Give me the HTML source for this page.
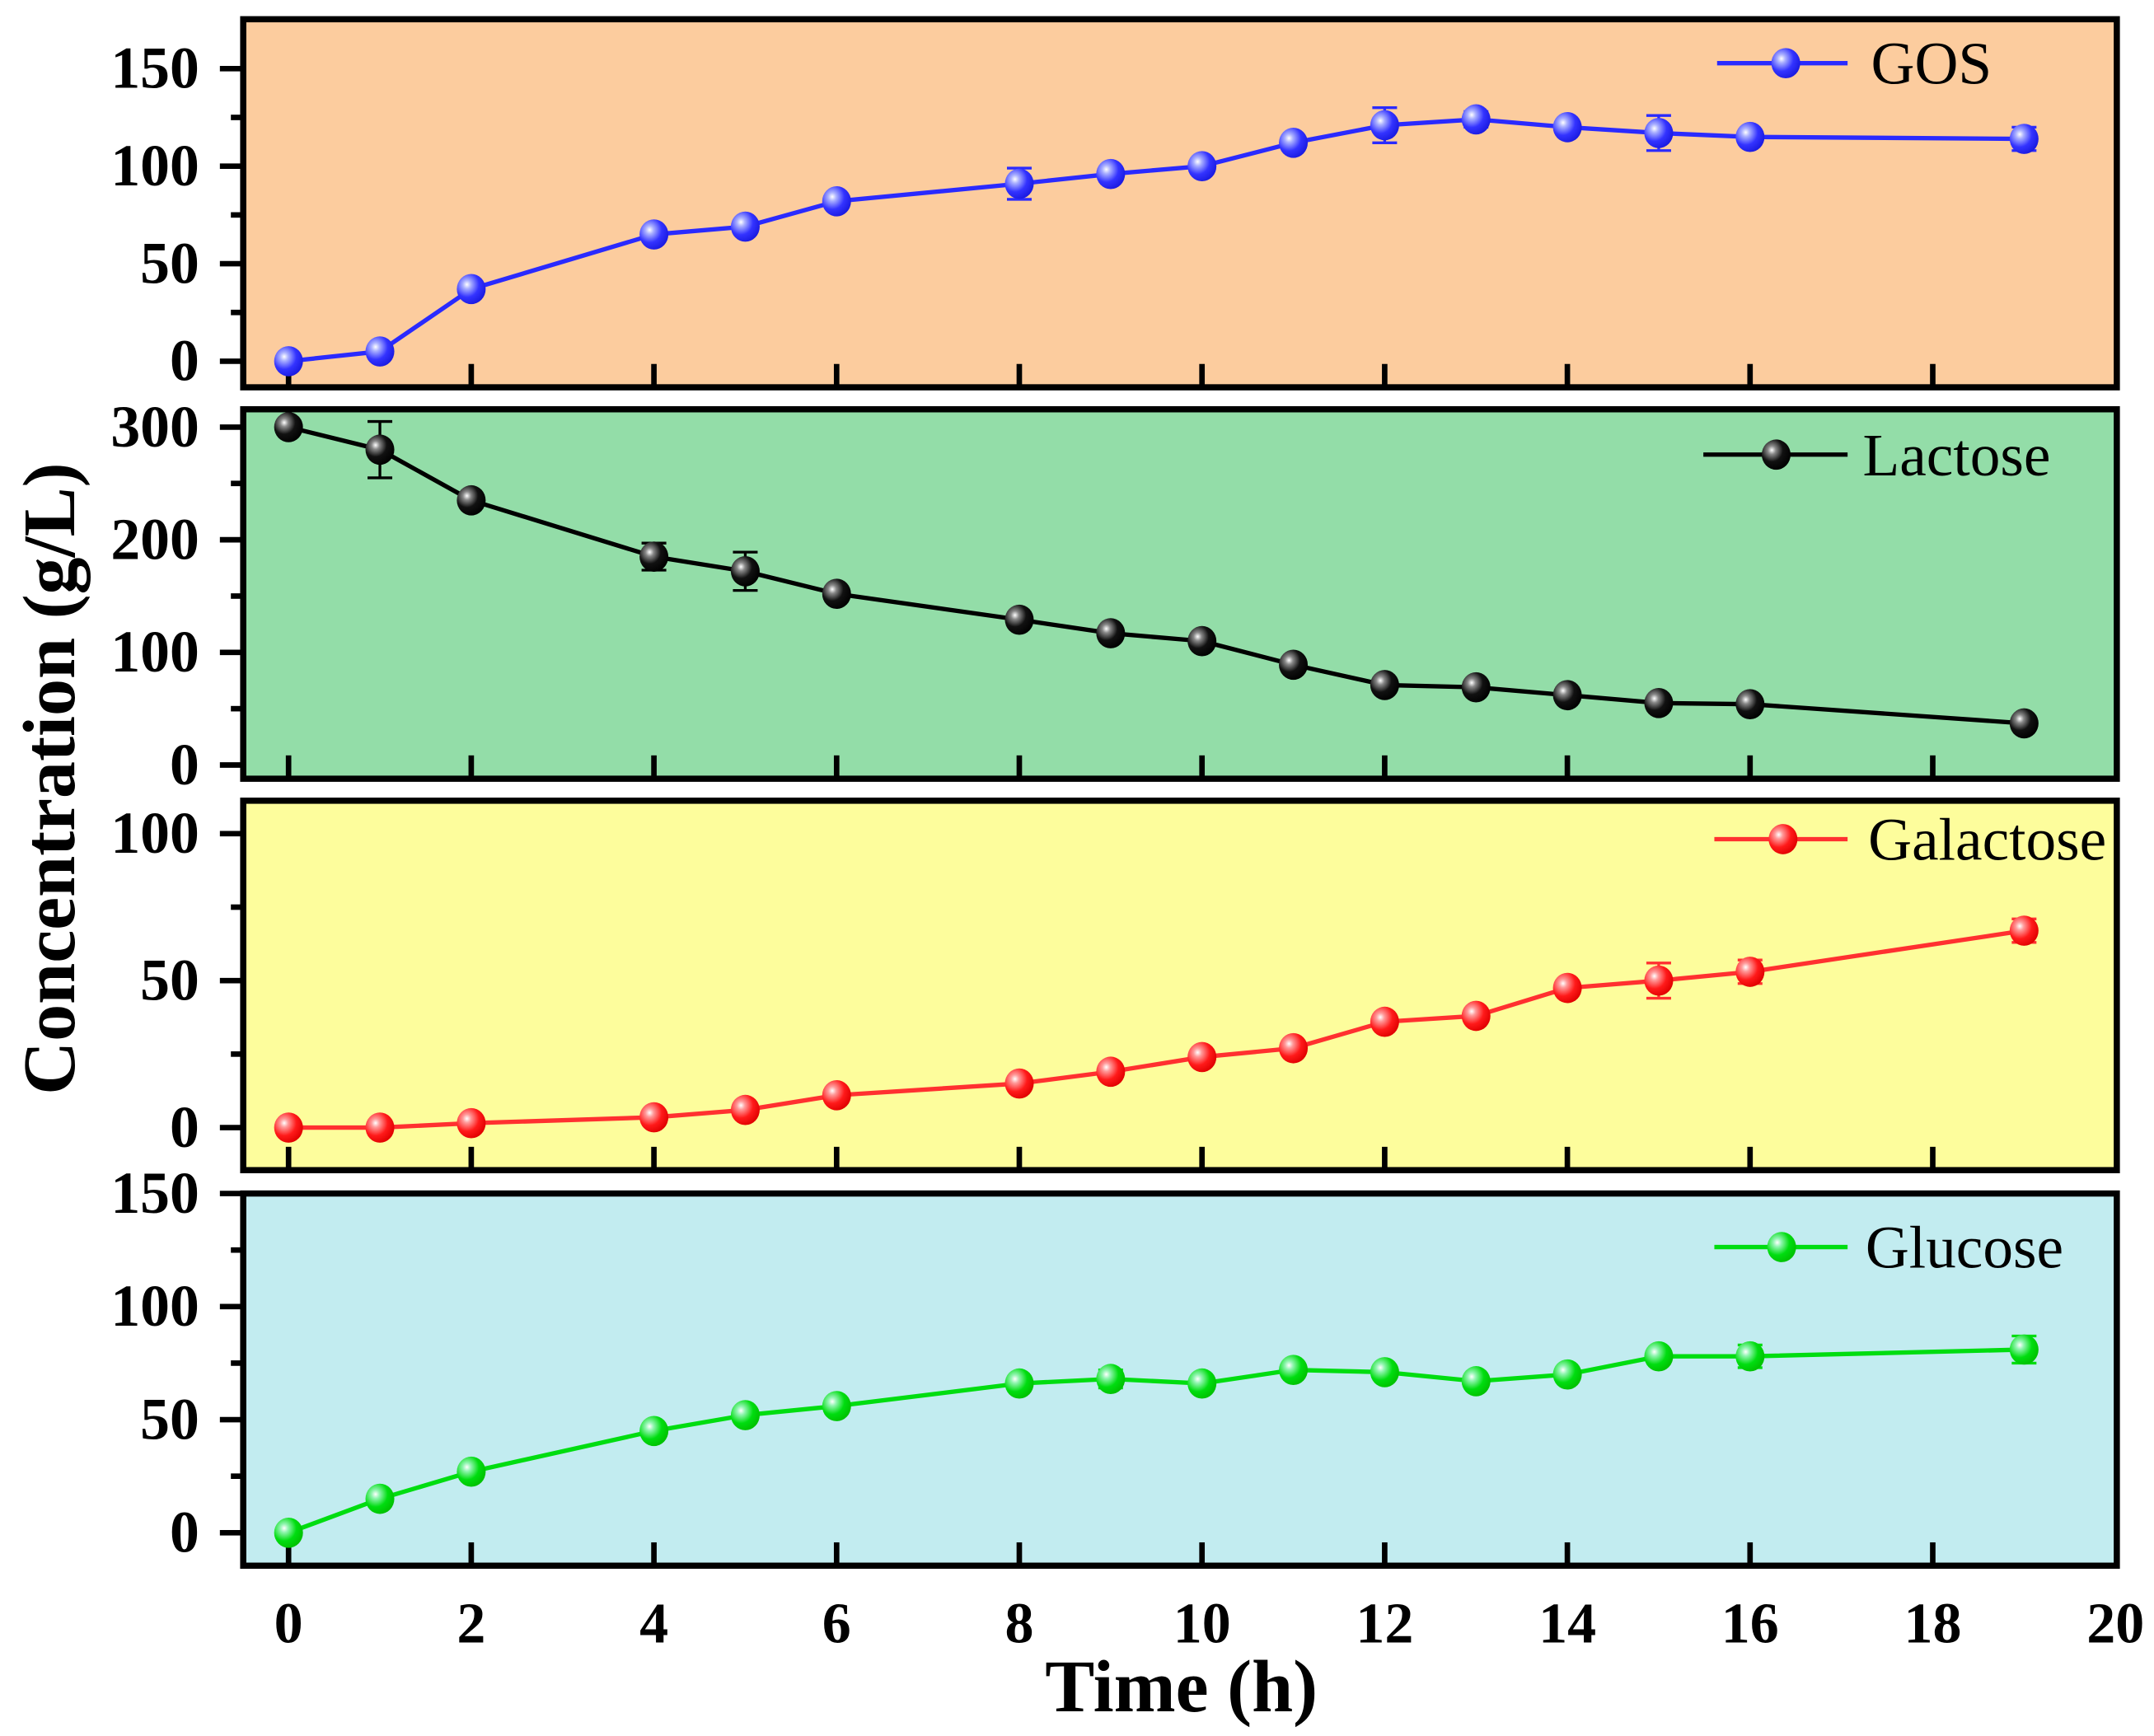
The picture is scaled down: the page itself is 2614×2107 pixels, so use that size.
<!DOCTYPE html>
<html><head><meta charset="utf-8"><style>
html,body{margin:0;padding:0;background:#fff}
svg{display:block}
text{font-family:"Liberation Serif",serif}
</style></head><body>
<svg id="chart" width="2614" height="2107" viewBox="0 0 1568 1264" xmlns="http://www.w3.org/2000/svg">
<defs>
<radialGradient id="gB" cx="0.35" cy="0.35" r="0.7"><stop offset="0" stop-color="#fff"/><stop offset="0.2" stop-color="#aab0ff"/><stop offset="0.6" stop-color="#3333ff"/><stop offset="1" stop-color="#1a1ae0"/></radialGradient>
<radialGradient id="gK" cx="0.35" cy="0.35" r="0.7"><stop offset="0" stop-color="#fff"/><stop offset="0.2" stop-color="#888"/><stop offset="0.55" stop-color="#111"/><stop offset="1" stop-color="#000"/></radialGradient>
<radialGradient id="gR" cx="0.35" cy="0.35" r="0.7"><stop offset="0" stop-color="#fff"/><stop offset="0.2" stop-color="#ff9a9a"/><stop offset="0.6" stop-color="#ff1a1a"/><stop offset="1" stop-color="#e00000"/></radialGradient>
<radialGradient id="gG" cx="0.35" cy="0.35" r="0.7"><stop offset="0" stop-color="#fff"/><stop offset="0.2" stop-color="#90f5b0"/><stop offset="0.6" stop-color="#00dd10"/><stop offset="1" stop-color="#00c000"/></radialGradient>
</defs>
</svg>
<script>
const times = [0,1,2,4,5,6,8,9,10,11,12,13,14,15,16,19];
const gosValues = [0,5,37,65,69,82,91,96,100,112,121,124,120,117,115,114];
const gosErrors = [0,0,2,2,2,2,8,2,2,2,9,4,2,9,3,6];
const lactoseValues = [300,280,235,185,172,152,129,117,110,89,71,69,62,55,54,37];
const lactoseErrors = [2,25,5,12,17,3,3,3,3,3,3,3,3,3,3,3];
const galactoseValues = [0,0,1.5,3.5,6,11,15,19,24,27,36,38,47.5,50,53,67];
const galactoseErrors = [0,0,1,1,1,1,1,1,1,1,1,1,1,6,4,4];
const glucoseValues = [0,15,27,45,52,56,66,68,66,72,71,67,70,78,78,81];
const glucoseErrors = [0,1,1,1,1,1,1,4,1,1,1,1,1,1,5,6];
const xTicks = [0,2,4,6,8,10,12,14,16,18,20];

const svg = document.getElementById('chart');
const NS = 'http://www.w3.org/2000/svg';
function mk(tag, attrs, parent){const e=document.createElementNS(NS,tag);for(const k in attrs)e.setAttribute(k,attrs[k]);(parent||svg).appendChild(e);return e;}
const L=177,R=1541;
const xs = t => 210 + (t/20)*(1540-210);

const panels = [
 {name:'gos',label:'GOS',bg:'#FCCC9E',color:'#2a2aff',grad:'gB',top:14,bot:282,y0:263,ymax:150,yTop:50,vals:gosValues,errs:gosErrors,ticks:[0,50,100,150],minor:[25,75,125],leg:[1250,1345,1300,46,1362]},
 {name:'lactose',label:'Lactose',bg:'#93DDA8',color:'#000',grad:'gK',top:298,bot:567,y0:557,ymax:300,yTop:311,vals:lactoseValues,errs:lactoseErrors,ticks:[0,100,200,300],minor:[50,150,250],leg:[1240,1345,1293,331,1356]},
 {name:'galactose',label:'Galactose',bg:'#FDFD9C',color:'#ff3030',grad:'gR',top:583,bot:852,y0:821,ymax:100,yTop:607,vals:galactoseValues,errs:galactoseErrors,ticks:[0,50,100],minor:[25,75],leg:[1248,1345,1298,611,1360]},
 {name:'glucose',label:'Glucose',bg:'#C2ECF0',color:'#00dd10',grad:'gG',top:869,bot:1140,y0:1116,ymax:150,yTop:869,vals:glucoseValues,errs:glucoseErrors,ticks:[0,50,100,150],minor:[25,75,125],leg:[1248,1345,1297,908,1358]}
];

panels.forEach(p=>{
  const g = mk('g',{});
  
  
  const ys = v => p.y0 - (v/p.ymax)*(p.y0-p.yTop);
  const bg = mk('rect',{x:L,y:p.top,width:R-L,height:p.bot-p.top,fill:p.bg},g);
  
  
  xTicks.slice(0,10).forEach(t=>{
    const tk = mk('line',{x1:xs(t),x2:xs(t),y1:p.bot,y2:p.bot-17,stroke:'#000','stroke-width':4},g);
    
    
  });
  p.ticks.forEach(v=>{
    const tk = mk('line',{x1:L,x2:L-17,y1:ys(v),y2:ys(v),stroke:'#000','stroke-width':4},g);
    
    
    const tl = mk('text',{x:145,y:ys(v)+14,'text-anchor':'end','font-size':43,'font-weight':'bold'},g);
    tl.textContent = v;
    
    
  });
  p.minor.forEach(v=>{
    const tk = mk('line',{x1:L,x2:L-9,y1:ys(v),y2:ys(v),stroke:'#000','stroke-width':4},g);
    
    
  });
  const pts = times.map((t,i)=>xs(t)+','+ys(p.vals[i])).join(' ');
  const ln = mk('polyline',{points:pts,fill:'none',stroke:p.color,'stroke-width':3.2,'stroke-linejoin':'round'},g);
  
  
  times.forEach((t,i)=>{
    const x=xs(t), y=ys(p.vals[i]);
    const eh = (p.errs[i]/p.ymax)*(p.y0-p.yTop);
    if(eh>1.5){
      const eb = mk('path',{d:`M${x},${y-eh}V${y+eh}M${x-9},${y-eh}H${x+9}M${x-9},${y+eh}H${x+9}`,stroke:p.color,'stroke-width':2,fill:'none'},g);
      
      
    }
    const m = mk('ellipse',{cx:x,cy:y,rx:10.5,ry:11,fill:'url(#'+p.grad+')'},g);
    
    
  });
  const fr = mk('rect',{x:L,y:p.top,width:R-L,height:p.bot-p.top,fill:'none',stroke:'#000','stroke-width':4.5},g);
  
  
  const lg = mk('g',{},g);
  
  
  const [lx1,lx2,mx,my,tx]=p.leg;
  mk('line',{x1:lx1,x2:lx2,y1:my,y2:my,stroke:p.color,'stroke-width':3.2},lg);
  mk('ellipse',{cx:mx,cy:my,rx:10.5,ry:11,fill:'url(#'+p.grad+')'},lg);
  const lt = mk('text',{x:tx,y:my+15,'font-size':44},lg);
  lt.textContent = p.label;
});

xTicks.forEach(t=>{
  const tl = mk('text',{x:xs(t),y:1196,'text-anchor':'middle','font-size':42,'font-weight':'bold'});
  tl.textContent = t;
  
  
});
const xt = mk('text',{x:860,y:1246,'text-anchor':'middle','font-size':54,'font-weight':'bold'});
xt.textContent='Time (h)';


const yt = mk('text',{x:0,y:0,'text-anchor':'middle','font-size':54,'font-weight':'bold',transform:'translate(54,567) rotate(-90)'});
yt.textContent='Concentration (g/L)';


</script>
</body></html>
